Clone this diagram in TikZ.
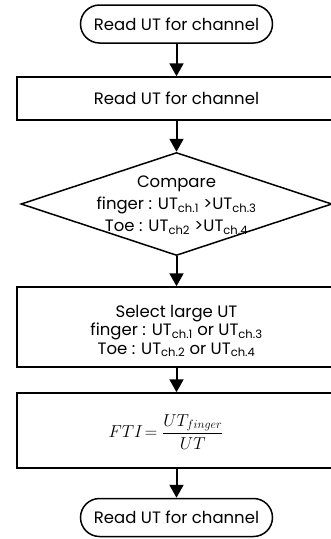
\documentclass[tikz,border=0pt]{standalone}
\usepackage{fontspec}
\setmainfont{Poppins}
\usetikzlibrary{arrows.meta,shapes.geometric}
\begin{document}
\begin{tikzpicture}[x=1pt,y=-1pt,
  every node/.style={font=\fontsize{16.5}{19}\selectfont},
  term/.style={draw, line width=1.5pt, rounded corners=19pt, minimum width=192pt, minimum height=38pt, inner sep=0pt},
  proc/.style={draw, line width=1.5pt, inner sep=0pt, minimum width=319pt},
  dec/.style={draw, diamond, line width=1.5pt, minimum width=311pt, minimum height=103pt, inner sep=0pt},
  flow/.style={line width=2pt, -{Triangle[width=14pt,length=13pt]}}]
\useasboundingbox (0,0) rectangle (331,539);
\node[term] (t1) at (176.5,24) {Read UT for channel};
\node[proc, minimum height=43pt] (b1) at (176.5,98.5) {Read UT for channel};
\node[dec] (d) at (176.5,204) {};
\node[align=center, inner sep=0pt, font=\fontsize{16.5}{22}\selectfont] (dt) at (176.5,205) {Compare\\finger : UT\textsubscript{ch.1} >UT\textsubscript{ch.3}\\Toe : UT\textsubscript{ch2} >UT\textsubscript{ch.4}};
\node[proc, minimum height=80pt] (b2) at (176.5,327) {};
\node[align=center, inner sep=0pt, font=\fontsize{16.5}{18.5}\selectfont] (b2t) at (176.5,331) {Select large UT\\finger : UT\textsubscript{ch.1} or UT\textsubscript{ch.3}\\Toe : UT\textsubscript{ch.2} or UT\textsubscript{ch.4}};
\node[proc, minimum height=75pt] (b3) at (176.5,430.5) {};
\node[font=\fontsize{16.5}{20}\selectfont, inner sep=0pt] (f) at (166,432) {$\displaystyle FTI\!=\frac{UT_{finger}}{UT}$};
\node[term] (t2) at (176.5,517.5) {Read UT for channel};
\draw[flow] (t1) -- (b1);
\draw[flow] (b1) -- (d);
\draw[flow] (d) -- (b2);
\draw[flow] (b2) -- (b3);
\draw[flow] (b3) -- (t2);
\end{tikzpicture}
\end{document}
